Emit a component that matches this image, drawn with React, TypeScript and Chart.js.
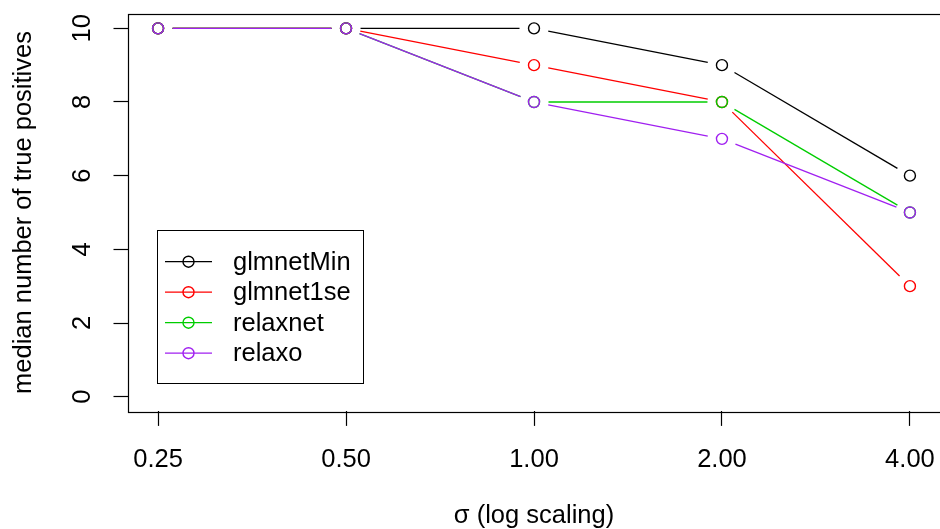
import { useEffect, useRef } from "react";
import { Chart, registerables } from "chart.js";

Chart.register(...registerables);

const sigma = [0.25, 0.5, 1, 2, 4];
const xTickLabels = ["0.25", "0.50", "1.00", "2.00", "4.00"];
const yTicks = [0, 2, 4, 6, 8, 10];
const seriesNames = ["glmnetMin", "glmnet1se", "relaxnet", "relaxo"];
const seriesColors = ["#000000", "#FF0000", "#00CD00", "#A020F0"];
const glmnetMin = [10, 10, 10, 9, 6];
const glmnet1se = [10, 10, 9, 8, 3];
const relaxnet = [10, 10, 8, 8, 5];
const relaxo = [10, 10, 8, 7, 5];
const seriesValues = [glmnetMin, glmnet1se, relaxnet, relaxo];

const FONT = "'Liberation Sans', Arial, Helvetica, sans-serif";
const FS = 25.5;
const GAP = 14.5;

const gapLines = {
  id: "gapLines",
  beforeDatasetsDraw(chart: any) {
    const ctx = chart.ctx;
    ctx.save();
    chart.data.datasets.forEach((ds: any, i: number) => {
      const pts = chart.getDatasetMeta(i).data;
      ctx.strokeStyle = ds.borderColor;
      ctx.lineWidth = 1.3;
      ctx.lineCap = "butt";
      for (let k = 0; k < pts.length - 1; k++) {
        const a = pts[k], b = pts[k + 1];
        const dx = b.x - a.x, dy = b.y - a.y;
        const d = Math.hypot(dx, dy);
        if (d <= 2 * GAP) continue;
        const ux = dx / d, uy = dy / d;
        ctx.beginPath();
        ctx.moveTo(a.x + ux * GAP, a.y + uy * GAP);
        ctx.lineTo(b.x - ux * GAP, b.y - uy * GAP);
        ctx.stroke();
      }
    });
    ctx.restore();
  },
};

const frameAndLegend = {
  id: "frameAndLegend",
  afterDraw(chart: any) {
    const ctx = chart.ctx;
    const a = chart.chartArea;
    ctx.save();
    ctx.strokeStyle = "#000";
    ctx.lineWidth = 1.2;
    ctx.strokeRect(Math.round(a.left) + 0.5, Math.round(a.top) + 0.5, Math.round(a.right - a.left) + 2, Math.round(a.bottom - a.top));
    // legend
    const lx = 157.5, ly = 230.5, lw = 206, lh = 153;
    ctx.lineWidth = 1;
    ctx.strokeRect(lx, ly, lw, lh);
    ctx.font = FS + "px " + FONT;
    ctx.textBaseline = "middle";
    ctx.textAlign = "left";
    chart.data.datasets.forEach((ds: any, i: number) => {
      const y = 261.7 + i * 30.5;
      ctx.strokeStyle = ds.borderColor;
      ctx.lineWidth = 1.3;
      ctx.beginPath();
      ctx.moveTo(165, y);
      ctx.lineTo(212, y);
      ctx.stroke();
      ctx.lineWidth = 1.4;
      ctx.beginPath();
      ctx.arc(188.5, y, 5.5, 0, Math.PI * 2);
      ctx.stroke();
      ctx.fillStyle = "#000";
      ctx.fillText(ds.label, 233, y + 1);
    });
    ctx.restore();
  },
};

const noPad = (s: any) => {
  s.paddingTop = 0;
  s.paddingBottom = 0;
  s.paddingLeft = 0;
  s.paddingRight = 0;
};

export default function App() {
  const ref = useRef<HTMLCanvasElement>(null);
  useEffect(() => {
    if (!ref.current) return;
    Chart.defaults.font.family = FONT;
    Chart.defaults.color = "#000";
    const chart = new Chart(ref.current, {
      type: "line",
      data: {
        datasets: seriesNames.map((name, i) => ({
          label: name,
          data: sigma.map((s, k) => ({ x: s, y: seriesValues[i][k] })),
          borderColor: seriesColors[i],
          backgroundColor: "rgba(0,0,0,0)",
          showLine: false,
          pointRadius: 5.5,
          pointBorderWidth: 1.4,
          pointBackgroundColor: "rgba(0,0,0,0)",
          pointBorderColor: seriesColors[i],
          order: 3 - i,
          clip: false as any,
        })),
      },
      options: {
        responsive: false,
        animation: false,
        devicePixelRatio: 1,
        layout: { autoPadding: false, padding: { left: 0, right: 0, top: 13.6, bottom: 0 } },
        plugins: { legend: { display: false }, tooltip: { enabled: false } },
        scales: {
          x: {
            type: "logarithmic",
            position: "bottom",
            bounds: "data",
            min: 0.25 * Math.pow(2, -0.16),
            max: 4 * Math.pow(2, 0.16),
            afterBuildTicks: (s: any) => {
              s.ticks = sigma.map((v) => ({ value: v }));
            },
            afterFit: (s: any) => {
              s.height = 117.6;
              noPad(s);
            },
            grid: { drawOnChartArea: false, drawTicks: true, tickLength: 14.5, tickColor: "#000", tickWidth: 1.2 },
            border: { display: false },
            ticks: {
              autoSkip: false,
              maxRotation: 0,
              minRotation: 0,
              padding: 19,
              font: { size: FS },
              color: "#000",
              callback: (_v: any, i: number) => xTickLabels[i],
            },
            title: {
              display: true,
              text: "σ (log scaling)",
              font: { size: FS, lineHeight: 1 },
              color: "#000",
              padding: { top: 0, bottom: 0 },
            },
          },
          y: {
            type: "linear",
            position: "left",
            bounds: "data",
            min: -0.4,
            max: 10.4,
            afterBuildTicks: (s: any) => {
              s.ticks = yTicks.map((v) => ({ value: v }));
            },
            afterFit: (s: any) => {
              s.width = 128;
              noPad(s);
            },
            grid: { drawOnChartArea: false, drawTicks: true, tickLength: 14.5, tickColor: "#000", tickWidth: 1.2 },
            border: { display: false },
            ticks: {
              minRotation: 90,
              maxRotation: 90,
              crossAlign: "center",
              padding: 16.5,
              font: { size: FS },
              color: "#000",
              callback: (v: any) => String(v),
            },
            title: {
              display: true,
              text: "median number of true positives",
              font: { size: FS, lineHeight: 1 },
              color: "#000",
              padding: { top: 11, bottom: 0 },
            },
          },
        },
      },
      plugins: [gapLines, frameAndLegend],
    } as any);
    return () => chart.destroy();
  }, []);
  return (
    <div style={{ position: "absolute", left: 0, top: 0, width: 940, height: 529, background: "#fff" }}>
      <canvas ref={ref} width={940} height={529} style={{ display: "block", width: 940, height: 529 }} />
    </div>
  );
}
